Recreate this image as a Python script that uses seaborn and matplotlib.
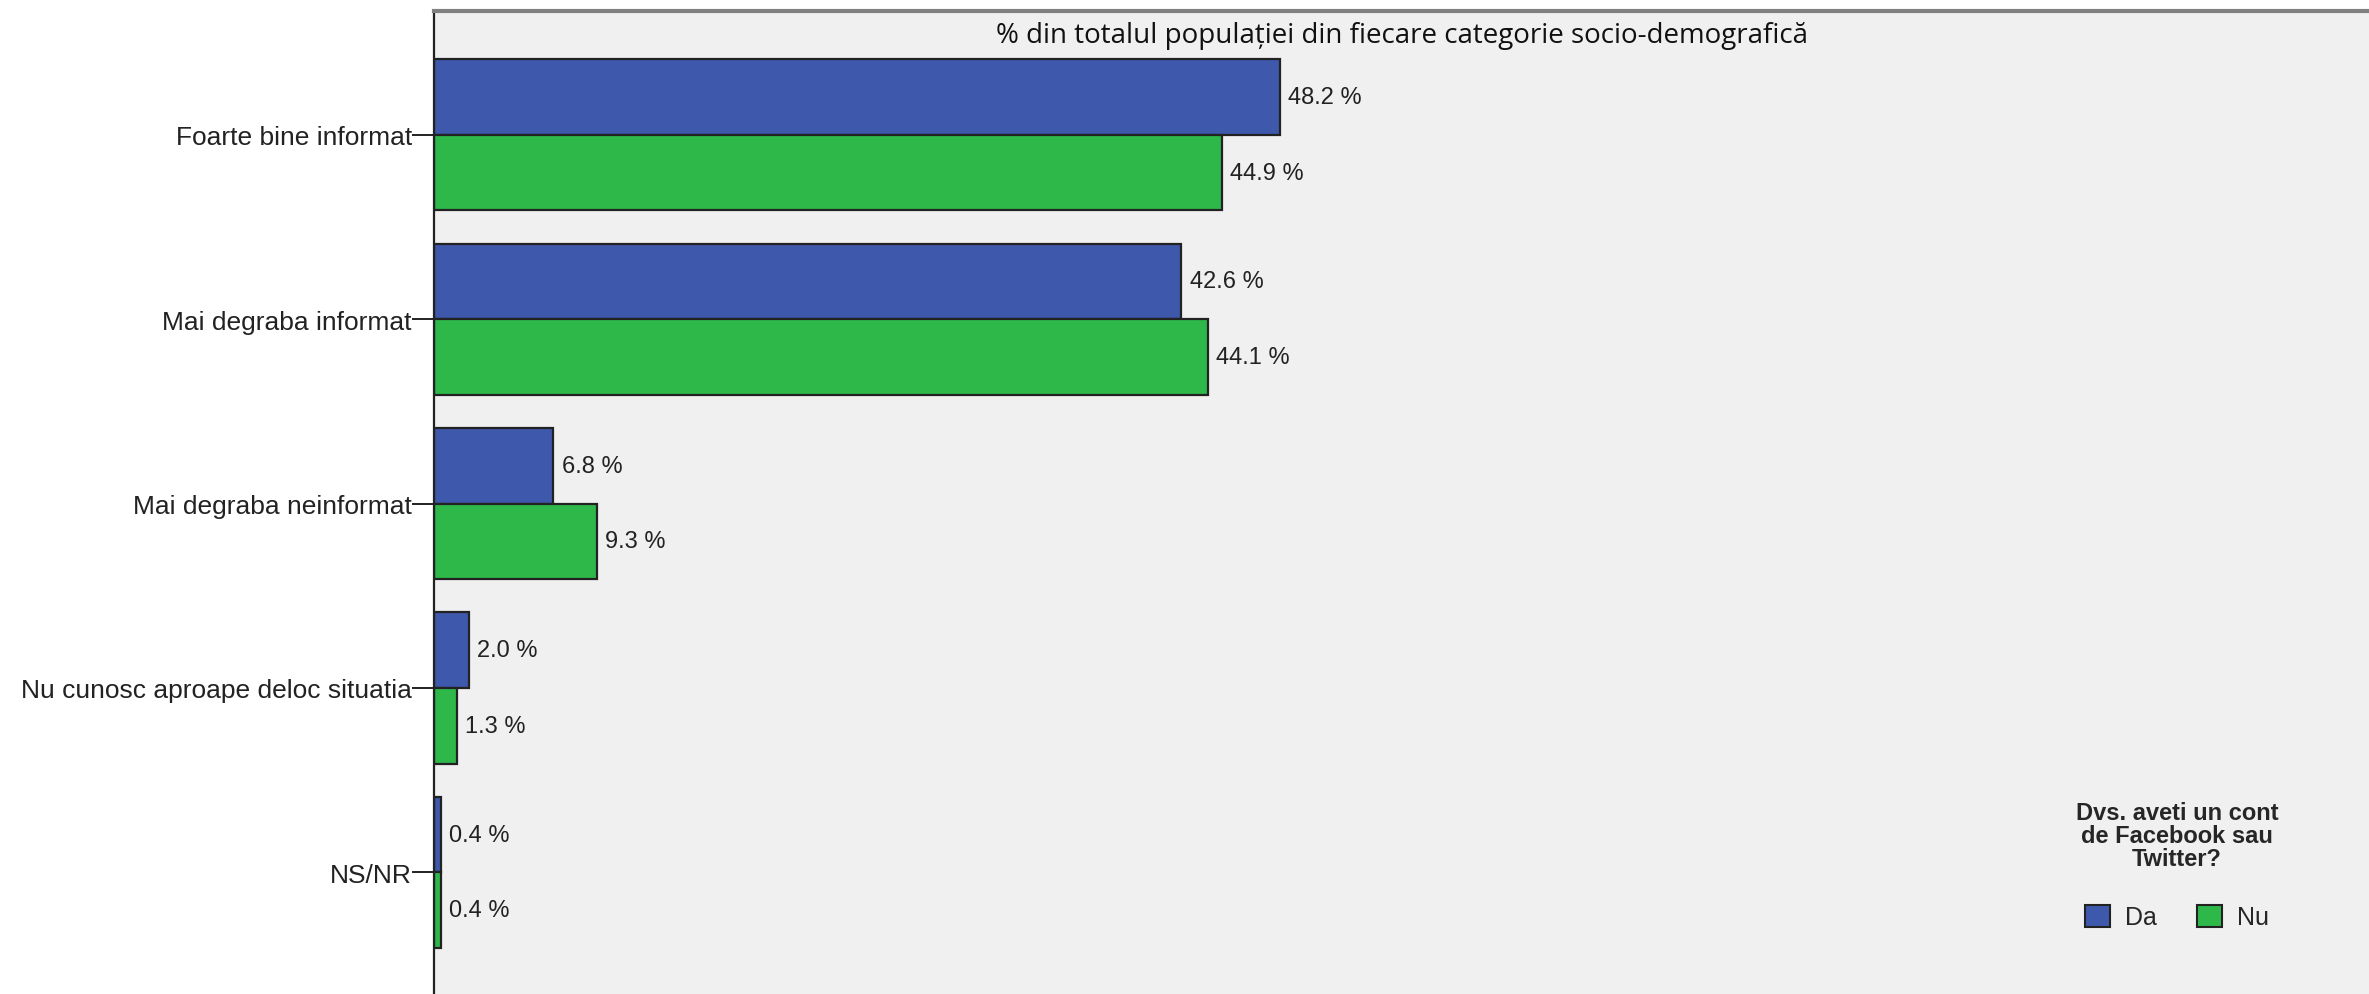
#!/usr/bin/env python3

import pandas as pd
import matplotlib
matplotlib.use("Agg")
import matplotlib.pyplot as plt
import seaborn as sns

# Data
categories = [
    "Foarte bine informat",
    "Mai degraba informat",
    "Mai degraba neinformat",
    "Nu cunosc aproape deloc situatia",
    "NS/NR",
]
groups = ["Da", "Nu"]
values_da = [48.2, 42.6, 6.8, 2.0, 0.4]
values_nu = [44.9, 44.1, 9.3, 1.3, 0.4]
colors = {"Da": "#3e58ac", "Nu": "#2eb84a"}

title_text = "% din totalul populației din fiecare categorie socio-demografică"
legend_title = "Dvs. aveti un cont\nde Facebook sau\nTwitter?"

df = pd.DataFrame({
    "categorie": categories * 2,
    "grup": ["Da"] * len(categories) + ["Nu"] * len(categories),
    "procent": values_da + values_nu,
})

sns.set_style("white")
plt.rcParams["font.family"] = ["Liberation Sans", "DejaVu Sans"]

fig = plt.figure(figsize=(23.69, 9.95), dpi=100)
ax = fig.add_axes([434 / 2369, 0.0, 1 - 434 / 2369, 1 - 12 / 995])
ax.set_facecolor("#f0f0f0")

sns.barplot(
    data=df, y="categorie", x="procent", hue="grup", order=categories,
    hue_order=groups, palette=colors, saturation=1, orient="h",
    width=0.82, gap=0, edgecolor="#222222", linewidth=1.6, ax=ax,
    legend=True,
)

# value labels next to each bar
for cont in ax.containers:
    ax.bar_label(cont, labels=[f"{v:.1f} %" for v in cont.datavalues],
                 padding=6, fontsize=17, color="#222222",
                 family=["Liberation Sans Narrow", "Liberation Sans"])

ax.set_xlim(0, 110.3)
ax.set_ylim(4.66, -0.672)
ax.set_xlabel("")
ax.set_ylabel("")
ax.set_xticks([])
ax.tick_params(axis="y", length=16, width=1.4, pad=0, labelsize=19,
               labelcolor="#222222", color="#222222", left=True)

for side in ["right", "bottom"]:
    ax.spines[side].set_visible(False)
ax.spines["left"].set_color("#222222")
ax.spines["left"].set_linewidth(1.6)
ax.spines["top"].set_color("#808080")
ax.spines["top"].set_linewidth(3)

ax.text(0.5, 0.9756, title_text, transform=ax.transAxes, ha="center",
        va="center", fontsize=20, color="#111111",
        family=["Open Sans", "DejaVu Sans"])

# one row of entries, so labelspacing only sets the gap under the title
leg = ax.legend(title=legend_title, ncol=2, frameon=False,
                loc="center", bbox_to_anchor=(2177 / 2369, 1 - 866 / 995),
                bbox_transform=fig.transFigure, fontsize=18,
                title_fontproperties={"weight": "bold", "size": 17},
                handlelength=1.0, handleheight=1.0, columnspacing=1.6,
                handletextpad=0.6, labelspacing=1.4)
leg.get_title().set_multialignment("center")
leg.get_title().set_linespacing(1.0)
for h in leg.legend_handles:
    h.set_edgecolor("#222222")
    h.set_linewidth(1.5)

fig.savefig("out.png", dpi=100, facecolor="white")
